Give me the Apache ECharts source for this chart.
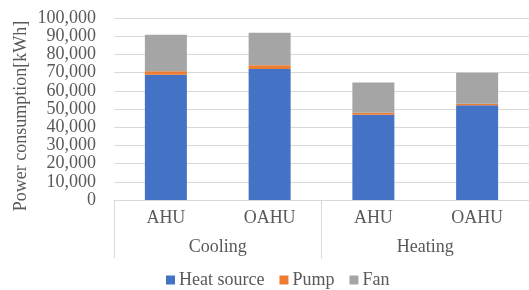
<!DOCTYPE html>
<html>
<head>
<meta charset="utf-8">
<script src="https://cdn.jsdelivr.net/npm/echarts@6/dist/echarts.min.js"></script>
<style>
  html, body { margin: 0; padding: 0; background: #fff; }
  #chart { width: 529px; height: 290px; }
</style>
</head>
<body>
<div id="chart"></div>
<script>
// data
const units = ['AHU', 'OAHU', 'AHU', 'OAHU'];
const modes = ['Cooling', 'Heating'];
const heatSource = [68800, 72000, 46900, 52000];
const pump = [2000, 2000, 1100, 900];
const fan = [20000, 17900, 16500, 17000];
const yTicks = { min: 0, max: 100000, step: 10000 };

const serif = '"Liberation Serif", "Times New Roman", serif';
const textGray = '#595959';
const lineGray = '#D9D9D9';

const chart = echarts.init(document.getElementById('chart'));

const bar = (name, data, color) => ({
  name: name,
  type: 'bar',
  stack: 'total',
  data: data,
  barWidth: 42,
  itemStyle: { color: color },
  xAxisIndex: 0
});

chart.setOption({
  animation: false,
  grid: { left: 114, top: 18, width: 417, height: 182 },
  legend: {
    left: 161,
    top: 266,
    icon: 'rect',
    itemWidth: 9,
    itemHeight: 9,
    itemGap: 15,
    textStyle: { fontFamily: serif, fontSize: 18, color: textGray, padding: [0, 0, 0, -1] },
    data: ['Heat source', 'Pump', 'Fan']
  },
  graphic: [{
    type: 'text',
    x: 21,
    y: 116,
    rotation: Math.PI / 2,
    style: {
      text: 'Power consumption[kWh]',
      font: '18px ' + serif,
      fill: textGray,
      align: 'center',
      verticalAlign: 'middle'
    }
  }],
  xAxis: [
    {
      type: 'category',
      data: units,
      axisLine: { lineStyle: { color: lineGray } },
      axisTick: { show: false },
      axisLabel: { fontFamily: serif, fontSize: 18, color: textGray, margin: 9 }
    },
    {
      type: 'category',
      data: modes,
      position: 'bottom',
      axisLine: { show: false },
      axisTick: { show: true, length: 58, lineStyle: { color: lineGray } },
      axisLabel: { fontFamily: serif, fontSize: 18, color: textGray, margin: 38 }
    }
  ],
  yAxis: {
    type: 'value',
    min: yTicks.min,
    max: yTicks.max,
    interval: yTicks.step,
    axisLine: { show: false },
    axisTick: { show: false },
    splitLine: { lineStyle: { color: lineGray } },
    axisLabel: {
      fontFamily: serif,
      fontSize: 18,
      color: textGray,
      margin: 18,
      formatter: v => v.toLocaleString('en-US')
    }
  },
  series: [
    bar('Heat source', heatSource, '#4472C4'),
    bar('Pump', pump, '#ED7D31'),
    bar('Fan', fan, '#A5A5A5')
  ]
});
</script>
</body>
</html>
